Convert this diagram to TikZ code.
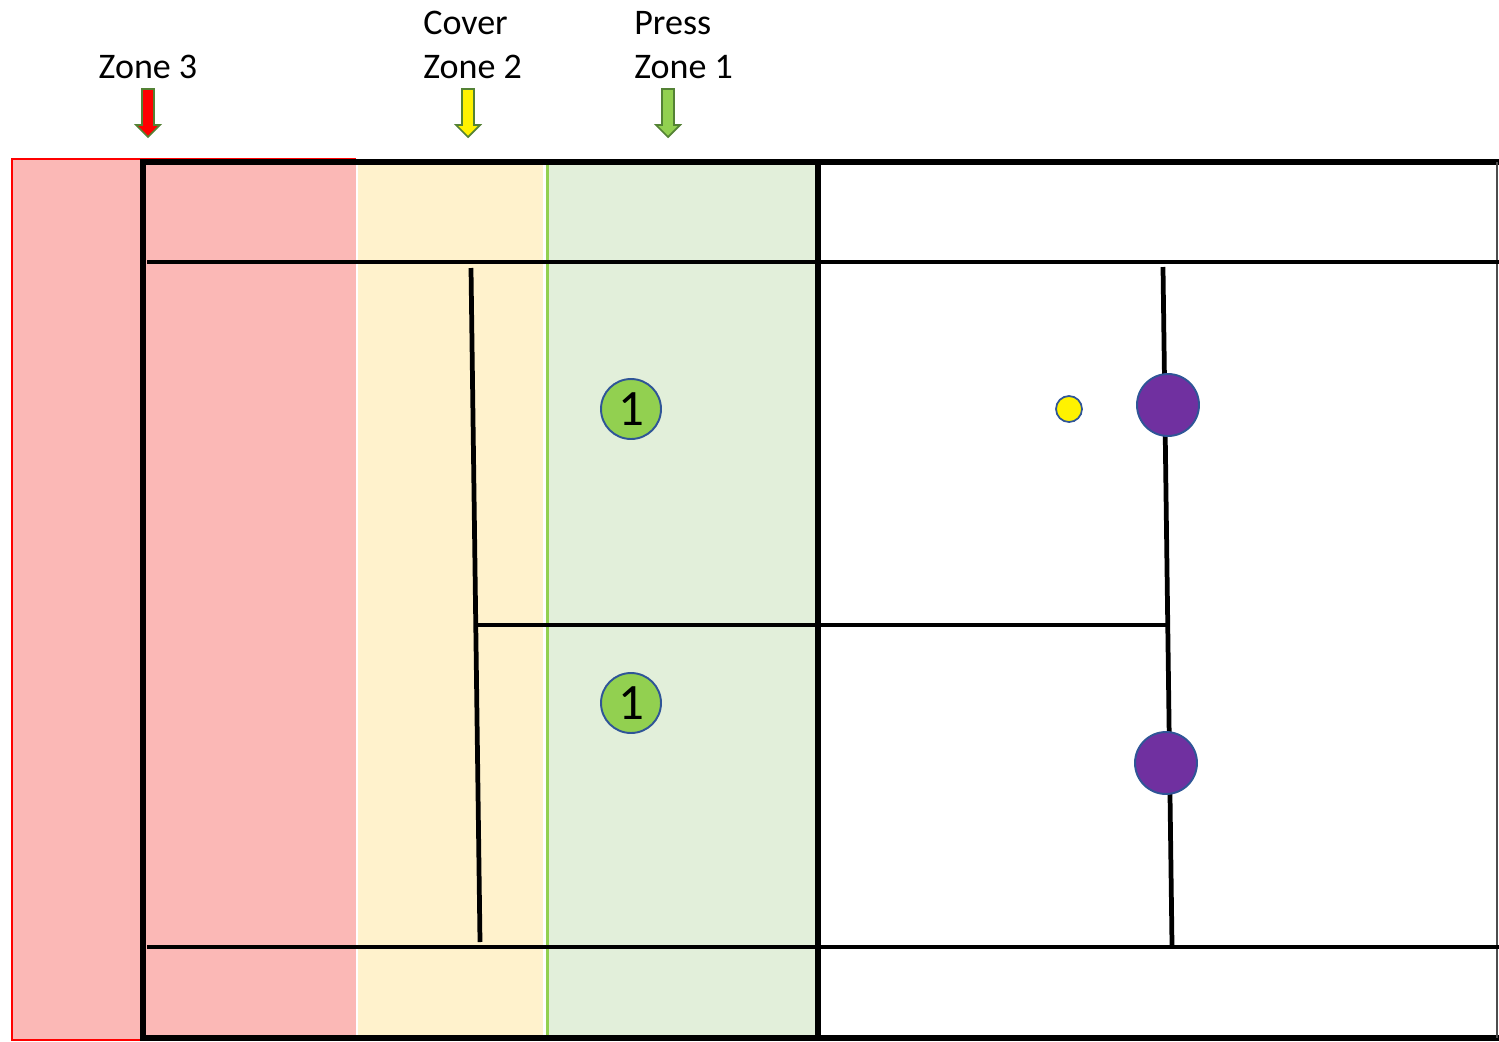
\documentclass[tikz,border=0pt]{standalone}
\usepackage{fontspec}
\setmainfont{Carlito}
\definecolor{zred}{HTML}{FBB8B6}
\definecolor{zyel}{HTML}{FFF2CC}
\definecolor{zgrn}{HTML}{E2EFDA}
\definecolor{lgrn}{HTML}{92D050}
\definecolor{dgrn}{HTML}{548235}
\definecolor{pblue}{HTML}{2F5597}
\definecolor{purp}{HTML}{7030A0}
\begin{document}
\begin{tikzpicture}[x=0.02cm,y=-0.02cm,
  courtline/.style={line width=2.7pt,black},
  player/.style={circle,draw=pblue,line width=1.1pt,fill=lgrn,minimum size=1.2cm,inner sep=0pt,font=\fontsize{29}{32}\selectfont},
  opp/.style={circle,draw=pblue,line width=1.1pt,fill=purp,minimum size=1.24cm,inner sep=0pt},
  ballst/.style={circle,draw=pblue,line width=1pt,fill=yellow,minimum size=0.52cm,inner sep=0pt},
  lbl/.style={font=\fontsize{20.5}{25}\selectfont,align=left,inner sep=0pt},
  zarrow/.style={draw=dgrn,line width=1pt,line join=miter}]
\useasboundingbox (0,0) rectangle (1499,1042);
% zones
\fill[zred] (12,159) rectangle (356,1040);
\draw[red,line width=1.1pt] (356,159) -- (12,159) -- (12,1040) -- (143,1040);
\fill[zyel] (358,165) rectangle (543,1036);
\fill[zgrn] (549,165) rectangle (815,1036);
\draw[lgrn,line width=1.2pt] (547.5,165) -- (547.5,1036);
% court
\coordinate (tl) at (143,162);
\coordinate (tr) at (1497,162);
\coordinate (bl) at (143,1038);
\coordinate (br) at (1497,1038);
\draw[line width=3pt] (1499,162) -- (tl) -- (bl) -- (1499,1038);
\draw[line width=0.8pt,black!70] (tr) -- (br);
\draw[line width=3.5pt] (818,162) -- (818,1038);
\coordinate (d1l) at (147,262); \coordinate (d1r) at (1499,262);
\coordinate (d2l) at (147,947); \coordinate (d2r) at (1499,947);
\draw[courtline] (d1l) -- (d1r);
\draw[courtline] (d2l) -- (d2r);
\coordinate (s1t) at (471,268); \coordinate (s1b) at (480,942);
\coordinate (s2t) at (1163,267); \coordinate (s2b) at (1172,945);
\draw[courtline] (s1t) -- (s1b);
\draw[courtline] (s2t) -- (s2b);
\coordinate (cl) at (478,625); \coordinate (cr) at (1168,625);
\draw[courtline] (cl) -- (cr);
% players
\node[player] (p1) at (631,409) {1};
\node[player] (p2) at (631,703) {1};
\node[ballst] (ball) at (1069,409) {};
\node[opp] (o1) at (1168,405) {};
\node[opp] (o2) at (1166,763) {};
% labels
\node[lbl,anchor=base] (z3) at (148,78) {Zone 3};
\node[lbl,anchor=base west] (c2a) at (423,34) {Cover};
\node[lbl,anchor=base west] (c2b) at (423,78) {Zone 2};
\node[lbl,anchor=base west] (p1a) at (634,34) {Press};
\node[lbl,anchor=base west] (p1b) at (634,78) {Zone 1};
% arrows
\foreach \cx/\col in {148/red,468/yellow,668/lgrn}{
  \draw[zarrow,fill=\col] (\cx-6,89) -- (\cx+6,89) -- (\cx+6,125) -- (\cx+12,125) -- (\cx,137) -- (\cx-12,125) -- (\cx-6,125) -- cycle;
}
\end{tikzpicture}
\end{document}
